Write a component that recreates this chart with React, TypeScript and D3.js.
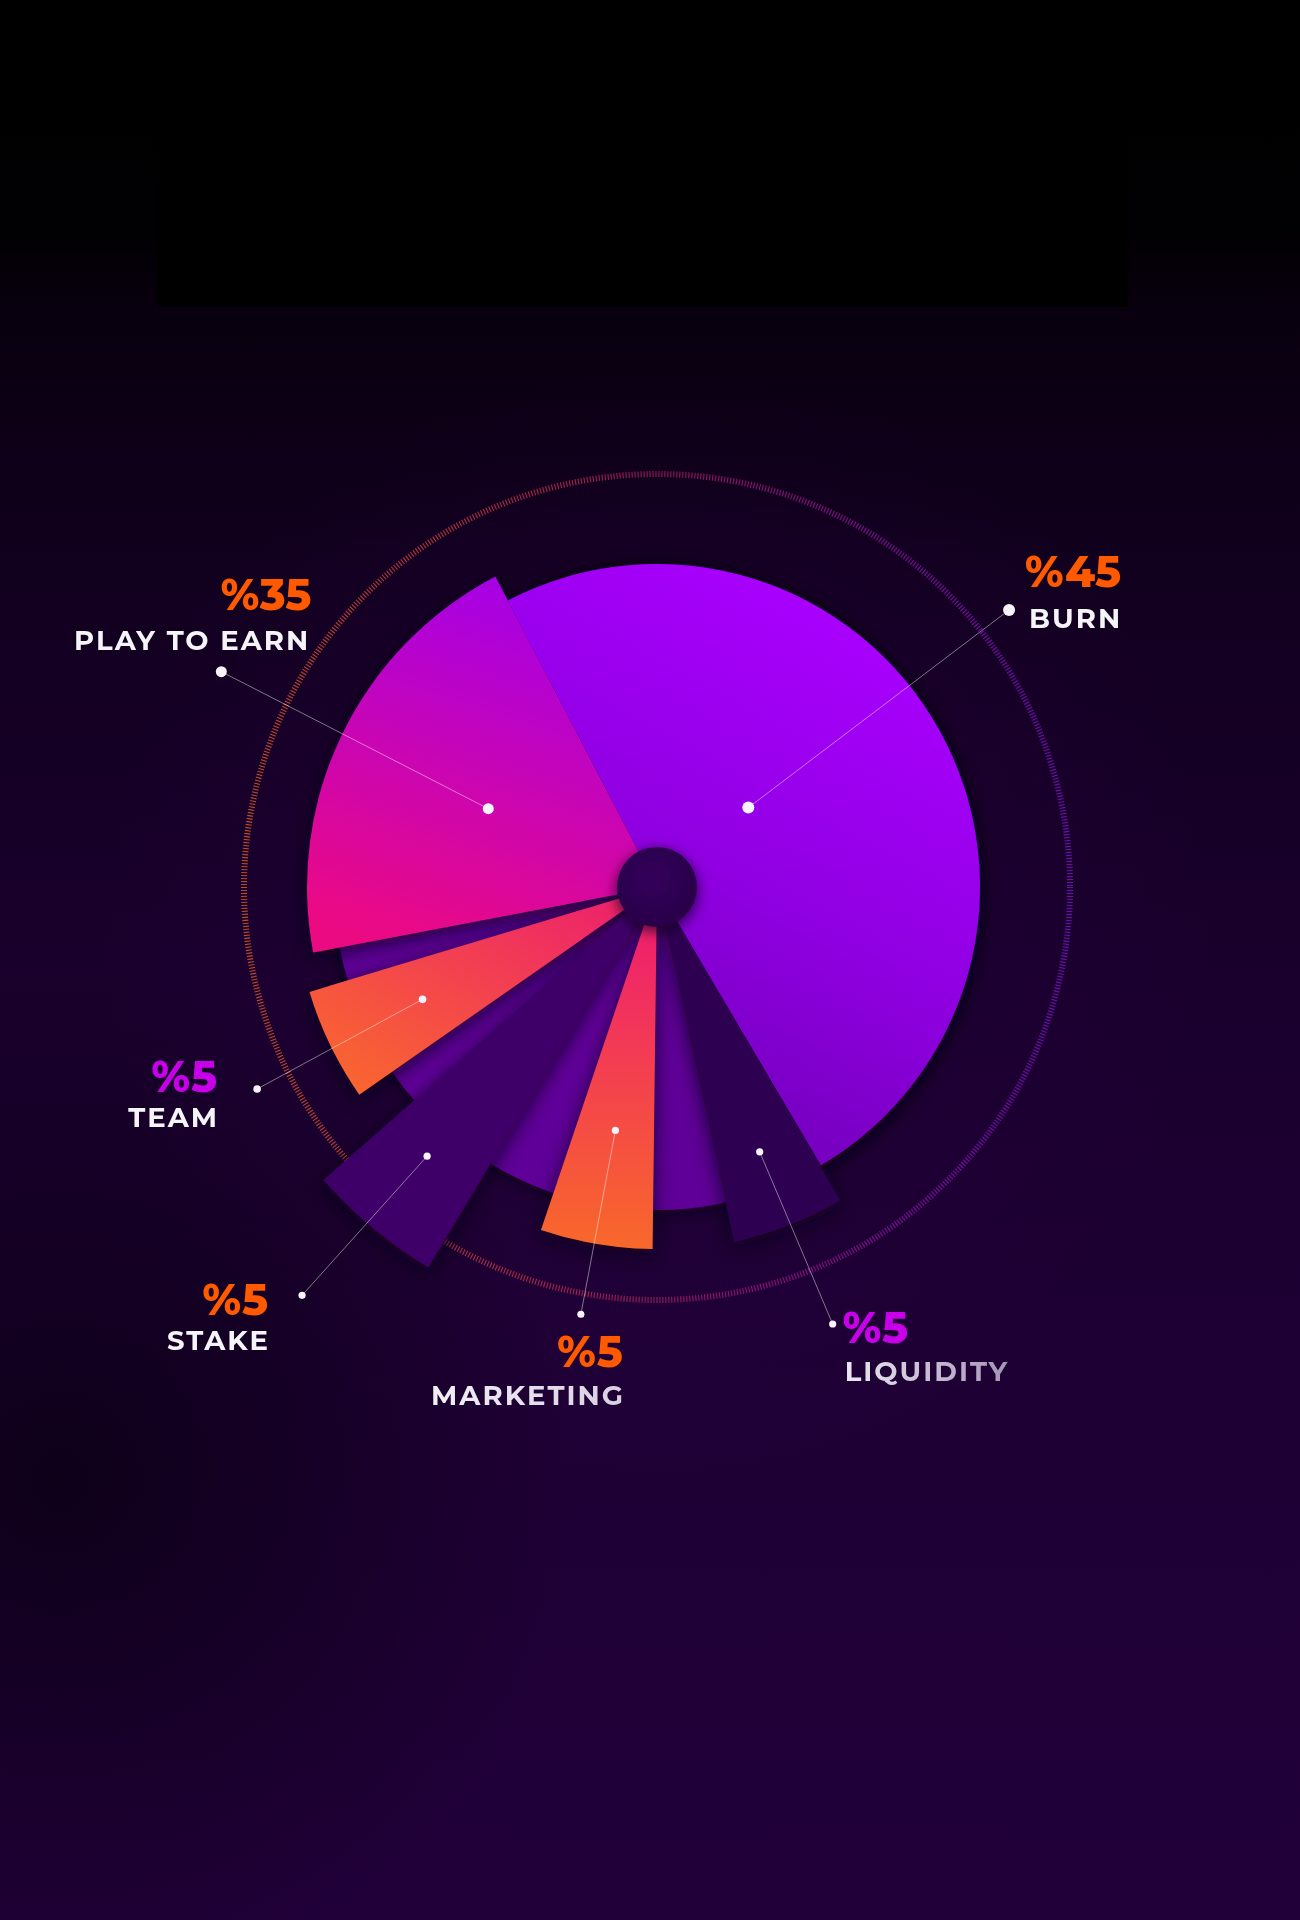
import { useEffect } from "react";
import * as d3 from "d3";

// token allocation
const categories = ["BURN", "PLAY TO EARN", "TEAM", "STAKE", "MARKETING", "LIQUIDITY"];
const shares = [45, 35, 5, 5, 5, 5];

// slice geometry of the design (degrees clockwise from 12 o'clock, px)
const sliceStart = [-27.5, -100.8, 235.1, 211, 180.7, 149.7];
const sliceEnd = [149.5, -27.5, 253.2, 228.7, 198.7, 167.7];
const sliceOuter = [323, 350, 363, 444, 362, 363];
const sliceFill = ["url(#gBurn)", "url(#gPte)", "url(#gTeam)", "#3e0068", "url(#gMkt)", "#2e0052"];

// callout anchors (polar, from the centre)
const innerDot = [[49, 121], [-65.1, 186], [244.4, 260], [220.5, 354], [189.7, 247], [158.8, 284]];
const outerDot = [[51.8, 448], [-63.7, 486], [243.2, 448], [221, 541], [190.1, 434], [158.1, 471]];
const dotSize = [6, 5.5, 3.8, 3.6, 3.6, 3.6];
// text offsets from the outer dot: [anchor, pctDx, pctDy, labelDx, labelDy]
const textPlace: [string, number, number, number, number][] = [
  ["start", 16, -23, 20, 18],
  ["end", 90, -62, 89, -22],
  ["end", -40, 3, -38, 38],
  ["end", -34, 20, -32, 55],
  ["end", 42, 53, 44, 91],
  ["start", 10, 19, 12, 57],
];
const pctColor = ["#ff5a00", "#ff5a00", "#c800ea", "#ff5a00", "#ff5a00", "#c800ea"];
const labelColor = ["#f5f4f8", "#f5f4f8", "#f5f4f8", "#f5f4f8", "url(#gTxtMkt)", "url(#gTxtLiq)"];

const W = 1300;
const H = 1920;
const CX = 657;
const CY = 887;
const RING = 413;
const HUB = 40;

const rad = d3.scaleLinear().domain([0, 360]).range([0, 2 * Math.PI]);
const polar = (deg: number, r: number): [number, number] => [
  CX + r * Math.sin(rad(deg)),
  CY - r * Math.cos(rad(deg)),
];

export default function App() {
  useEffect(() => {
    document.body.style.margin = "0";
    document.body.style.background = "#000";
  }, []);

  const arc = d3.arc<any>().innerRadius(0);
  const order = [5, 4, 3, 2, 1, 0];
  const font = "Montserrat, Inter, 'Open Sans', sans-serif";
  const slicePath = (i: number) =>
    arc({ startAngle: rad(sliceStart[i]), endAngle: rad(sliceEnd[i]), outerRadius: sliceOuter[i] }) || "";

  return (
    <svg width={W} height={H} style={{ display: "block" }}>
      <defs>
        <linearGradient id="bg" x1="0" y1="0" x2="0" y2="1">
          <stop offset="0" stopColor="#000000" />
          <stop offset="0.12" stopColor="#010002" />
          <stop offset="0.16" stopColor="#08000e" />
          <stop offset="0.3" stopColor="#12001f" />
          <stop offset="0.5" stopColor="#19002c" />
          <stop offset="0.7" stopColor="#1e0034" />
          <stop offset="1" stopColor="#210039" />
        </linearGradient>
        <radialGradient id="glow" cx={CX} cy={CY + 40} r={560} gradientUnits="userSpaceOnUse">
          <stop offset="0" stopColor="#2a0046" stopOpacity="0.5" />
          <stop offset="1" stopColor="#2a0046" stopOpacity="0" />
        </radialGradient>
        <radialGradient id="vignette" cx={60} cy={1480} r={520} gradientUnits="userSpaceOnUse">
          <stop offset="0" stopColor="#05000a" stopOpacity="0.65" />
          <stop offset="1" stopColor="#05000a" stopOpacity="0" />
        </radialGradient>
        <linearGradient id="ring" x1={CX - RING} y1="0" x2={CX + RING} y2="0" gradientUnits="userSpaceOnUse">
          <stop offset="0" stopColor="#d65a28" />
          <stop offset="0.35" stopColor="#c0304a" />
          <stop offset="0.55" stopColor="#a81870" />
          <stop offset="0.8" stopColor="#8a12a8" />
          <stop offset="1" stopColor="#7a10c8" />
        </linearGradient>
        <linearGradient id="gBurn" x1="0.7" y1="0.05" x2="0.3" y2="1">
          <stop offset="0" stopColor="#aa00ff" />
          <stop offset="0.5" stopColor="#9000e2" />
          <stop offset="1" stopColor="#6c00b2" />
        </linearGradient>
        <linearGradient id="gPte" x1="0.6" y1="0" x2="0.3" y2="1">
          <stop offset="0" stopColor="#a400e8" />
          <stop offset="1" stopColor="#ec0a82" />
        </linearGradient>
        <linearGradient id="gTeam" x1="1" y1="0" x2="0" y2="1">
          <stop offset="0" stopColor="#ec1a72" />
          <stop offset="1" stopColor="#fa6c2a" />
        </linearGradient>
        <linearGradient id="gMkt" x1="0.5" y1="0" x2="0.5" y2="1">
          <stop offset="0" stopColor="#ee1676" />
          <stop offset="1" stopColor="#f8682a" />
        </linearGradient>
        <linearGradient id="gTxtMkt" x1="0" y1="0" x2="1" y2="0">
          <stop offset="0" stopColor="#f2eff6" />
          <stop offset="1" stopColor="#d8d0e2" />
        </linearGradient>
        <linearGradient id="gTxtLiq" x1="0" y1="0" x2="1" y2="0">
          <stop offset="0" stopColor="#ece8f2" />
          <stop offset="1" stopColor="#a494b6" />
        </linearGradient>
        <radialGradient id="gHub" cx="0.45" cy="0.4" r="0.6">
          <stop offset="0" stopColor="#34005a" />
          <stop offset="1" stopColor="#28004a" />
        </radialGradient>
        <filter id="blur" x="-30%" y="-30%" width="160%" height="160%">
          <feGaussianBlur stdDeviation="9" />
        </filter>
        <filter id="shadow" x="-30%" y="-30%" width="160%" height="160%">
          <feDropShadow dx="0" dy="4" stdDeviation="7" floodColor="#10001c" floodOpacity="0.8" />
        </filter>
      </defs>

      {/* background */}
      <rect width={W} height={H} fill="url(#bg)" />
      <rect width={W} height={H} fill="url(#glow)" />
      <rect width={W} height={H} fill="url(#vignette)" />
      <rect x={157} y={0} width={971} height={307} fill="#000" />

      {/* dashed outer ring */}
      <circle
        cx={CX}
        cy={CY}
        r={RING}
        fill="none"
        stroke="url(#ring)"
        strokeWidth={6}
        strokeDasharray="1.1 1.9"
        opacity={0.85}
      />

      {/* base disc */}
      <circle cx={CX} cy={CY} r={sliceOuter[0]} fill="#5e0098" filter="url(#shadow)" />

      {/* slice shadows, then fills, so shadows fall on the disc only */}
      <g transform={`translate(${CX},${CY + 5})`} filter="url(#blur)">
        {order.map((i) => (
          <path key={categories[i]} d={slicePath(i)} fill="#10001c" opacity={0.8} />
        ))}
      </g>
      <g transform={`translate(${CX},${CY})`}>
        {order.map((i) => (
          <path key={categories[i]} d={slicePath(i)} fill={sliceFill[i]} />
        ))}
      </g>

      {/* hub */}
      <circle cx={CX} cy={CY} r={HUB} fill="url(#gHub)" filter="url(#shadow)" />

      {/* callouts */}
      {categories.map((name, i) => {
        const [ix, iy] = polar(innerDot[i][0], innerDot[i][1]);
        const [ox, oy] = polar(outerDot[i][0], outerDot[i][1]);
        const [anchor, pdx, pdy, ldx, ldy] = textPlace[i];
        return (
          <g key={name}>
            <line x1={ix} y1={iy} x2={ox} y2={oy} stroke="#ffffff" strokeOpacity={0.45} strokeWidth={1} />
            <circle cx={ix} cy={iy} r={dotSize[i]} fill="#f6f3fa" />
            <circle cx={ox} cy={oy} r={dotSize[i]} fill="#f6f3fa" />
            <text
              x={ox + pdx}
              y={oy + pdy}
              textAnchor={anchor}
              fill={pctColor[i]}
              fontFamily={font}
              fontWeight={800}
              fontSize={43}
            >
              {"%" + shares[i]}
            </text>
            <text
              x={ox + ldx}
              y={oy + ldy}
              textAnchor={anchor}
              fill={labelColor[i]}
              fontFamily={font}
              fontWeight={700}
              fontSize={27.5}
              letterSpacing={2}
            >
              {name}
            </text>
          </g>
        );
      })}
    </svg>
  );
}
